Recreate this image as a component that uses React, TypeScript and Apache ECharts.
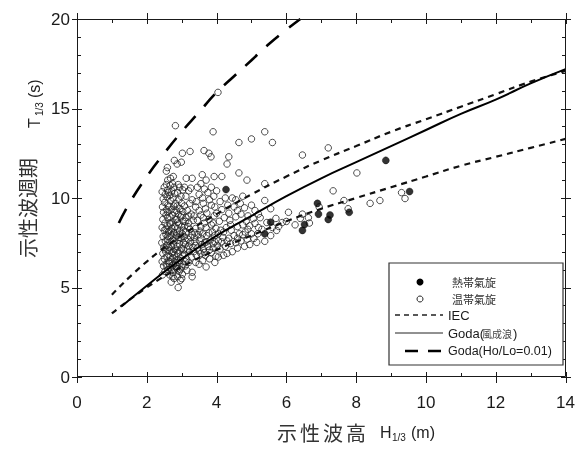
import React, { useEffect, useRef } from 'react';
import * as echarts from 'echarts';

// ---- data ----
const xMajorTicks = [0, 2, 4, 6, 8, 10, 12, 14];
const xMinorTicks = [1, 3, 5, 7, 9, 11, 13];
const yMajorTicks = [0, 5, 10, 15, 20];
const yMinorTicks = [1, 2, 3, 4, 6, 7, 8, 9, 11, 12, 13, 14, 16, 17, 18, 19];

const iecH = [1, 2, 3, 4, 5, 6, 7, 8, 9, 10, 11, 12, 13, 14];
const iecUpperT = [4.6, 6.45, 7.9, 9.1, 10.2, 11.2, 12.1, 12.9, 13.7, 14.4, 15.1, 15.8, 16.5, 17.1];
const iecLowerT = [3.55, 5.0, 6.15, 7.1, 7.9, 8.7, 9.4, 10.0, 10.6, 11.2, 11.8, 12.3, 12.8, 13.3];

const godaH = [1.28, 2, 3, 4, 5, 6, 7, 8, 9, 10, 11, 12, 13, 14];
const godaT = [3.95, 5.1, 6.6, 7.9, 9.0, 10.1, 11.1, 12.0, 12.9, 13.8, 14.7, 15.5, 16.4, 17.2];

const goda001H = [1.2, 1.5, 2, 2.5, 3, 3.5, 4, 4.5, 5, 5.5, 6, 6.4];
const goda001T = [8.6, 9.7, 11.2, 12.5, 13.7, 14.8, 15.9, 16.8, 17.7, 18.6, 19.4, 20.0];

const tropical: number[][] = [
  [4.27, 10.47], [8.85, 12.1], [9.53, 10.36], [5.55, 8.65], [5.38, 8.0], [6.52, 8.52],
  [6.46, 8.19], [6.89, 9.7], [6.92, 9.1], [7.2, 8.8], [7.25, 9.05], [7.8, 9.2],
];

const extratropical: number[][] = [
  // H 2.42-2.62
  [2.45, 5.7], [2.52, 5.9], [2.6, 6.0], [2.48, 6.2], [2.56, 6.3], [2.44, 6.45], [2.62, 6.5], [2.5, 6.6],
  [2.58, 6.75], [2.46, 6.9], [2.54, 7.0], [2.61, 7.1], [2.49, 7.25], [2.57, 7.35], [2.43, 7.5], [2.53, 7.6],
  [2.6, 7.7], [2.47, 7.85], [2.55, 7.95], [2.62, 8.1], [2.5, 8.2], [2.44, 8.35], [2.58, 8.45], [2.52, 8.6],
  [2.46, 8.8], [2.6, 8.9], [2.55, 9.05], [2.48, 9.2], [2.57, 9.35], [2.45, 9.5], [2.61, 9.6], [2.51, 9.75],
  [2.47, 9.95], [2.58, 10.05], [2.53, 10.2], [2.44, 10.35], [2.6, 10.45], [2.5, 10.6], [2.56, 10.75], [2.62, 10.3],
  // H 2.63-2.83
  [2.7, 5.3], [2.78, 5.5], [2.66, 5.7], [2.74, 5.85], [2.8, 6.0], [2.68, 6.1], [2.76, 6.25], [2.64, 6.35],
  [2.82, 6.4], [2.72, 6.55], [2.67, 6.7], [2.79, 6.8], [2.73, 6.95], [2.65, 7.05], [2.81, 7.15], [2.7, 7.3],
  [2.77, 7.4], [2.66, 7.55], [2.74, 7.65], [2.82, 7.8], [2.69, 7.9], [2.77, 8.05], [2.64, 8.15], [2.72, 8.3],
  [2.8, 8.4], [2.68, 8.55], [2.75, 8.65], [2.83, 8.8], [2.66, 8.95], [2.73, 9.05], [2.79, 9.2], [2.7, 9.35],
  [2.64, 9.5], [2.77, 9.55], [2.82, 9.7], [2.69, 9.85], [2.75, 10.0], [2.66, 10.15], [2.8, 10.25], [2.72, 10.4],
  [2.78, 10.6], [2.67, 10.7], [2.74, 10.8], [2.71, 6.0], [2.76, 7.0],
  // H 2.84-3.05
  [2.9, 5.0], [2.96, 5.4], [2.88, 5.6], [3.02, 5.75], [2.93, 5.9], [2.86, 6.05], [2.99, 6.15], [3.04, 6.3],
  [2.91, 6.4], [2.85, 6.55], [2.97, 6.65], [3.03, 6.8], [2.89, 6.9], [2.95, 7.05], [3.0, 7.2], [2.87, 7.3],
  [2.93, 7.45], [3.05, 7.5], [2.9, 7.65], [2.98, 7.75], [2.85, 7.9], [3.02, 8.0], [2.94, 8.15], [2.88, 8.3],
  [3.0, 8.4], [2.92, 8.55], [3.04, 8.7], [2.86, 8.8], [2.97, 8.95], [2.9, 9.1], [3.03, 9.25], [2.95, 9.4],
  [2.87, 9.55], [3.0, 9.7], [2.92, 9.9], [2.98, 10.1], [2.88, 10.3], [3.03, 10.45], [2.94, 10.6], [2.9, 10.75],
  // H 3.06-3.35
  [3.3, 5.6], [3.3, 5.85], [3.1, 6.2], [3.2, 6.4], [3.14, 6.6], [3.28, 6.7], [3.08, 6.85], [3.22, 7.0],
  [3.16, 7.15], [3.32, 7.25], [3.1, 7.4], [3.25, 7.55], [3.18, 7.7], [3.07, 7.85], [3.3, 7.95], [3.13, 8.1],
  [3.24, 8.25], [3.09, 8.45], [3.2, 8.6], [3.33, 8.75], [3.12, 8.9], [3.27, 9.1], [3.16, 9.3], [3.08, 9.55],
  [3.23, 9.7], [3.3, 9.9], [3.12, 10.1], [3.2, 10.4], [3.08, 10.6], [3.26, 10.55],
  // extra density, H 2.5-3.3
  [2.58, 6.15], [2.66, 6.45], [2.74, 6.65], [2.84, 6.2], [2.95, 6.5], [3.1, 6.45], [2.52, 7.15], [2.63, 7.25],
  [2.86, 7.05], [3.06, 7.1], [3.2, 7.3], [2.6, 7.85], [2.78, 7.6], [2.92, 7.8], [3.12, 7.6], [3.26, 7.8],
  [2.7, 8.15], [2.86, 8.05], [3.05, 8.2], [3.18, 8.4], [2.55, 8.25], [2.65, 8.6], [2.88, 8.65], [3.1, 8.7],
  [2.6, 9.2], [2.84, 9.3], [3.0, 9.05], [3.2, 9.0], [2.95, 6.0], [3.15, 5.95], [2.75, 5.6], [3.0, 5.5],
  // H 3.35-4.0
  [3.4, 6.4], [3.5, 6.3], [3.6, 6.5], [3.7, 6.15], [3.8, 6.6], [3.95, 6.4], [3.42, 6.8], [3.55, 6.9],
  [3.68, 6.8], [3.85, 6.95], [3.98, 6.75], [3.45, 7.2], [3.62, 7.15], [3.75, 7.3], [3.9, 7.2], [3.38, 7.55],
  [3.52, 7.6], [3.66, 7.5], [3.82, 7.65], [3.95, 7.55], [3.47, 7.95], [3.6, 8.0], [3.72, 7.9], [3.88, 8.1],
  [3.4, 8.3], [3.55, 8.4], [3.7, 8.35], [3.85, 8.5], [3.98, 8.3], [3.45, 8.75], [3.62, 8.9], [3.78, 8.8],
  [3.93, 9.0], [3.5, 9.3], [3.68, 9.4], [3.85, 9.6], [3.42, 9.8], [3.6, 10.0], [3.75, 10.3], [3.92, 10.1],
  [3.45, 10.6], [3.55, 10.8],
  // extra density, H 3.3-4.4
  [3.35, 7.0], [3.5, 7.05], [3.65, 6.95], [3.8, 7.1], [3.4, 7.35], [3.58, 7.4], [3.72, 7.55], [3.9, 7.45],
  [4.02, 7.35], [3.36, 7.8], [3.55, 7.75], [3.78, 8.05], [3.95, 7.9], [4.15, 7.55], [4.3, 7.6], [3.38, 8.05],
  [3.52, 8.15], [3.65, 8.6], [3.9, 8.6], [4.05, 8.0], [4.2, 8.1], [4.4, 8.5], [3.35, 9.0], [3.55, 9.05],
  [3.72, 9.15], [4.0, 9.15], [4.35, 9.15], [3.4, 9.5], [3.62, 9.7], [3.95, 9.5], [4.1, 9.8], [3.8, 9.9],
  [3.5, 10.2], [4.0, 10.4], [3.85, 10.6], [3.65, 10.5],
  // H 4.0-5.0
  [4.05, 6.7], [4.2, 6.8], [4.3, 6.9], [4.45, 7.0], [4.6, 7.2], [4.8, 7.3], [4.95, 7.4], [4.1, 7.15],
  [4.25, 7.3], [4.4, 7.45], [4.55, 7.5], [4.7, 7.6], [4.88, 7.7], [4.05, 7.6], [4.18, 7.8], [4.35, 7.75],
  [4.5, 7.9], [4.65, 8.0], [4.82, 8.1], [4.12, 8.2], [4.28, 8.35], [4.42, 8.2], [4.6, 8.4], [4.75, 8.5],
  [4.95, 8.45], [4.08, 8.7], [4.22, 8.9], [4.38, 8.75], [4.55, 8.95], [4.7, 9.1], [4.9, 9.0], [4.15, 9.35],
  [4.32, 9.6], [4.5, 9.5], [4.68, 9.7], [4.25, 10.0], [4.45, 10.0],
  [4.6, 7.75], [4.75, 7.95], [4.9, 8.25], [5.0, 8.0], [5.2, 8.35], [4.85, 8.7], [5.05, 8.85], [4.6, 9.3],
  [4.8, 9.45], [5.0, 9.6], [4.55, 9.9], [4.75, 10.1], [5.2, 9.1],
  // H 5.0-6.0
  [5.07, 7.74], [5.15, 7.52], [5.38, 7.58], [5.18, 8.0], [5.1, 8.58], [5.44, 8.63], [5.7, 8.86], [5.88, 8.63],
  [5.72, 8.19], [5.78, 8.41], [5.55, 7.9], [5.3, 8.25], [5.1, 9.3], [5.38, 9.86], [5.55, 9.4], [5.38, 10.8],
  [5.25, 8.9], [5.6, 8.35],
  // H 6-7
  [6.0, 8.69], [6.06, 9.2], [6.4, 8.86], [6.46, 9.1], [6.63, 8.9], [6.66, 8.6], [6.25, 8.5], [6.94, 9.5],
  // upper / outlying
  [2.82, 14.04], [4.04, 15.9], [3.9, 13.7], [4.64, 13.1], [5.0, 13.3], [5.38, 13.7], [5.6, 13.1], [3.02, 12.5],
  [3.24, 12.6], [3.64, 12.65], [3.78, 12.5], [3.84, 12.3], [2.79, 12.1], [2.99, 12.0], [2.59, 11.7], [2.87, 11.9],
  [4.35, 12.3], [4.3, 11.9], [4.64, 11.4], [4.87, 11.0], [3.13, 11.1], [3.3, 11.1], [3.59, 11.3], [3.7, 11.0],
  [3.93, 11.2], [4.15, 11.2], [2.56, 11.5], [2.76, 11.2], [2.6, 11.0], [2.68, 11.1],
  [6.46, 12.4], [7.2, 12.8], [8.02, 11.4], [7.34, 10.4], [7.65, 9.86], [7.77, 9.4], [8.4, 9.7], [8.68, 9.86],
  [9.3, 10.3], [9.4, 9.97],
];

const NUM_FONT = '"Liberation Sans", Arial, sans-serif';
const LAT_FONT = '"Liberation Sans", Arial, sans-serif';
const CJK_FONT = '"Noto Sans CJK JP", "Noto Sans CJK SC", sans-serif';
const INK = '#1a1a1a';
const X_MIN = 0, X_MAX = 14, Y_MIN = 0, Y_MAX = 20;

const zip = (xs: number[], ys: number[]) => xs.map((x, i) => [x, ys[i]]);
const snap = (v: number) => Math.round(v) + 0.5;

export default function App() {
  const ref = useRef<HTMLDivElement>(null);
  useEffect(() => {
    if (!ref.current) return;
    const chart = echarts.init(ref.current, undefined, { renderer: 'svg' });

    const tickStyle = { stroke: INK, lineWidth: 1 };
    const seg = (x1: number, y1: number, x2: number, y2: number) => ({
      type: 'line', shape: { x1, y1, x2, y2 }, style: tickStyle, silent: true,
    });

    // x ticks: value + major flag; drawn on bottom and top through the axis scale
    const xTickData = [...xMajorTicks.map((v) => [v, 1]), ...xMinorTicks.map((v) => [v, 0])];
    const yTickData = [...yMajorTicks.map((v) => [v, 1]), ...yMinorTicks.map((v) => [v, 0])];

    const renderXTick = (params: any, api: any) => {
      const v = api.value(0);
      const major = api.value(1) === 1;
      const b = api.coord([v, Y_MIN]);
      const t = api.coord([v, Y_MAX]);
      const x = snap(b[0]);
      const yb = Math.round(b[1]);
      const yt = Math.round(t[1]);
      const children = major
        ? [seg(x, yb - 5, x, yb + 6), seg(x, yt - 6, x, yt + 5)]
        : [seg(x, yb - 4, x, yb), seg(x, yt, x, yt + 4)];
      return { type: 'group', children };
    };
    const renderYTick = (params: any, api: any) => {
      const v = api.value(0);
      const major = api.value(1) === 1;
      const l = api.coord([X_MIN, v]);
      const r = api.coord([X_MAX, v]);
      const y = snap(l[1]);
      const xl = Math.round(l[0]);
      const xr = Math.round(r[0]);
      const children = major
        ? [seg(xl - 5, y, xl + 5, y), seg(xr - 5, y, xr + 5, y)]
        : [seg(xl, y, xl + 4, y), seg(xr - 4, y, xr, y)];
      return { type: 'group', children };
    };
    const renderFrame = (params: any, api: any) => {
      const p0 = api.coord([X_MIN, Y_MAX]);
      const p1 = api.coord([X_MAX, Y_MIN]);
      const x0 = snap(p0[0]), y0 = snap(p0[1]), x1 = snap(p1[0]) - 1, y1 = snap(p1[1]) - 1;
      return {
        type: 'rect', silent: true,
        shape: { x: x0, y: y0, width: x1 - x0, height: y1 - y0 },
        style: { fill: 'none', stroke: INK, lineWidth: 1 },
      };
    };

    const txt = (x: number, y: number, text: string, size: number, family: string, fill = INK, rot = 0) => ({
      type: 'text', x, y, rotation: rot, z: 100,
      style: { text, fontSize: size, fontFamily: family, fill, textAlign: 'left', textVerticalAlign: 'middle', align: 'left', verticalAlign: 'middle' },
    });

    const xTitle = ['示', '性', '波', '高'].map((c, i) => txt(277 + i * 23, 432, c, 20, CJK_FONT, '#333'));
    const R = Math.PI / 2;

    const option: any = {
      animation: false,
      grid: { left: 77, right: 9, top: 19, bottom: 75 },
      xAxis: {
        type: 'value', min: X_MIN, max: X_MAX, interval: 2,
        splitLine: { show: false },
        axisLine: { show: false },
        axisTick: { show: false },
        axisLabel: { show: true, margin: 17, fontSize: 17, fontFamily: NUM_FONT, color: INK },
      },
      yAxis: {
        type: 'value', min: Y_MIN, max: Y_MAX, interval: 5,
        splitLine: { show: false },
        axisLine: { show: false },
        axisTick: { show: false },
        axisLabel: { show: true, margin: 7, fontSize: 17, fontFamily: NUM_FONT, color: INK },
      },
      series: [
        {
          name: '温帯氣旋', type: 'scatter',
          data: extratropical, symbol: 'circle', symbolSize: 6.5,
          itemStyle: { color: 'rgba(0,0,0,0)', borderColor: '#222', borderWidth: 1 },
        },
        {
          name: '熱帯氣旋', type: 'scatter',
          data: tropical, symbol: 'circle', symbolSize: 7,
          itemStyle: { color: '#000', borderColor: '#000', borderWidth: 0.5 },
        },
        {
          name: 'IEC', type: 'line', data: zip(iecH, iecUpperT),
          smooth: true, showSymbol: false, lineStyle: { color: '#111', width: 2.2, type: [6, 5] },
        },
        {
          name: 'IEC lower', type: 'line', data: zip(iecH, iecLowerT),
          smooth: true, showSymbol: false, lineStyle: { color: '#111', width: 2.2, type: [6, 5] },
        },
        {
          name: 'Goda(風成浪)', type: 'line', data: zip(godaH, godaT),
          smooth: true, showSymbol: false, lineStyle: { color: '#000', width: 2 },
        },
        {
          name: 'Goda(Ho/Lo=0.01)', type: 'line', data: zip(goda001H, goda001T),
          smooth: true, showSymbol: false, clip: true, lineStyle: { color: '#000', width: 2.6, type: [16, 13] },
        },
        { name: 'frame', type: 'custom', data: [[X_MIN, Y_MIN]], renderItem: renderFrame, clip: false, silent: true, z: 5 },
        { name: 'xticks', type: 'custom', data: xTickData, renderItem: renderXTick, clip: false, silent: true, z: 5 },
        {
          name: 'yticks', type: 'custom', data: yTickData, renderItem: renderYTick, clip: false, silent: true, z: 5,
          encode: { x: 1, y: 0 },
        },
      ],
      graphic: [
        {
          type: 'rect', z: 100, shape: { x: 389, y: 263, width: 174, height: 102 },
          style: { fill: '#fff', stroke: '#333', lineWidth: 1.2 },
        },
        { type: 'circle', z: 101, shape: { cx: 420, cy: 282, r: 3.5 }, style: { fill: '#000' } },
        txt(452, 282, '熱帯氣旋', 11, CJK_FONT, '#333'),
        { type: 'circle', z: 101, shape: { cx: 420, cy: 299, r: 3 }, style: { fill: 'none', stroke: '#222', lineWidth: 1 } },
        txt(452, 299, '温帯氣旋', 11, CJK_FONT, '#333'),
        { type: 'line', z: 101, shape: { x1: 395, y1: 315, x2: 443, y2: 315 }, style: { stroke: '#222', lineWidth: 1.5, lineDash: [5, 4] } },
        txt(448, 315, 'IEC', 13, LAT_FONT),
        { type: 'line', z: 101, shape: { x1: 395, y1: 333, x2: 443, y2: 333 }, style: { stroke: '#222', lineWidth: 1 } },
        txt(448, 333, 'Goda(', 13, LAT_FONT),
        txt(482, 333, '風成浪', 10, CJK_FONT, '#444'),
        txt(513, 333, ')', 13, LAT_FONT),
        { type: 'line', z: 101, shape: { x1: 405, y1: 351, x2: 443, y2: 351 }, style: { stroke: '#000', lineWidth: 2.4, lineDash: [13, 10] } },
        txt(448, 351, 'Goda(Ho/Lo=0.01)', 12.5, LAT_FONT),
        ...xTitle,
        txt(380, 432, 'H', 16, LAT_FONT, '#222'),
        txt(392, 437, '1/3', 10, LAT_FONT, '#222'),
        txt(411, 432, '(m)', 16, LAT_FONT, '#222'),
        txt(27, 258, '示性波週期', 20, CJK_FONT, '#333', R),
        txt(34, 128, 'T', 16, LAT_FONT, '#222', R),
        txt(39, 116, '1/3', 10, LAT_FONT, '#222', R),
        txt(34, 98, '(s)', 16, LAT_FONT, '#222', R),
      ],
    };

    chart.setOption(option);
    return () => chart.dispose();
  }, []);

  return (
    <div
      ref={ref}
      style={{ position: 'fixed', left: 0, top: 0, width: 578, height: 452 }}
    />
  );
}
